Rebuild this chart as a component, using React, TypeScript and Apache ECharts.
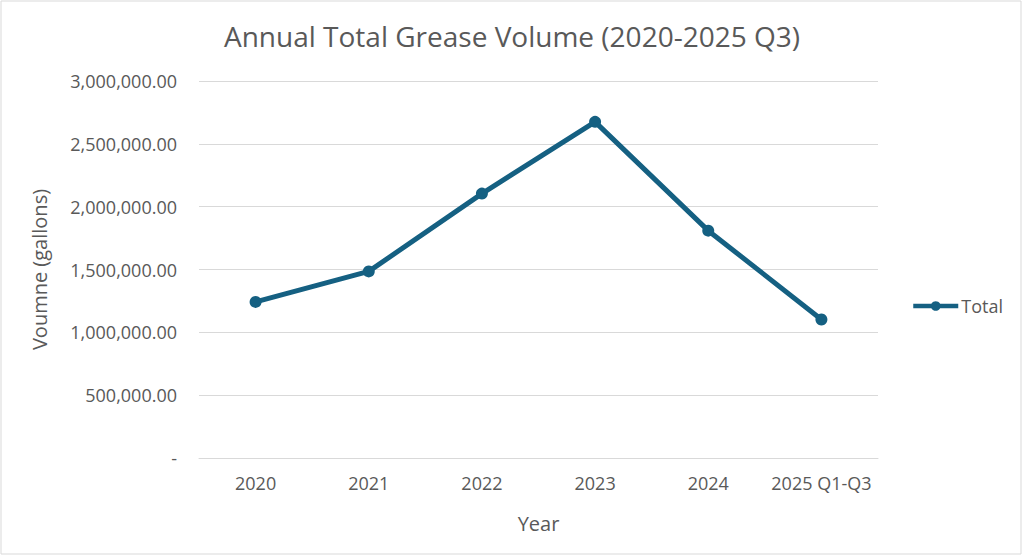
import React, { useEffect, useRef } from "react";
import * as echarts from "echarts";

const categories = ["2020", "2021", "2022", "2023", "2024", "2025 Q1-Q3"];
const totalValues = [1242000, 1485000, 2104000, 2675000, 1809000, 1102000];
const seriesName = "Total";
const titleText = "Annual Total Grease Volume (2020-2025 Q3)";
const yAxisName = "Voumne (gallons)";
const xAxisName = "Year";

const FONT = "'Open Sans', 'Noto Sans', sans-serif";
const TEXT = "#595959";
const LINE = "#156082";

function fmt(v: number): string {
  if (v === 0) return "-";
  return v.toLocaleString("en-US", { minimumFractionDigits: 2, maximumFractionDigits: 2 });
}

export default function App() {
  const ref = useRef<HTMLDivElement>(null);
  useEffect(() => {
    document.body.style.margin = "0";
    const chart = echarts.init(ref.current!, null, { renderer: "svg" });
    chart.setOption({
      animation: false,
      backgroundColor: "#ffffff",
      textStyle: { fontFamily: FONT },
      title: {
        text: titleText,
        left: "center",
        top: 17,
        textStyle: { fontFamily: FONT, fontSize: 28, fontWeight: "normal", color: TEXT },
      },
      graphic: [
        {
          type: "rect",
          shape: { x: 1, y: 1, width: 1020, height: 553 },
          style: { fill: "none", stroke: "#d9d9d9", lineWidth: 1 },
          silent: true,
        },
      ],
      legend: {
        data: [seriesName],
        left: 911,
        top: 297,
        padding: 0,
        orient: "vertical",
        itemWidth: 45,
        itemHeight: 12,
        itemGap: 4,
        lineStyle: { width: 4.5, color: LINE },
        textStyle: { fontFamily: FONT, fontSize: 18, color: TEXT, padding: [0, 0, 0, -2] },
      },
      grid: { left: 199, right: 146, top: 81, bottom: 98 },
      xAxis: {
        type: "category",
        data: categories,
        boundaryGap: true,
        name: xAxisName,
        nameLocation: "middle",
        nameGap: 55,
        nameTextStyle: { fontFamily: FONT, fontSize: 20, color: TEXT },
        axisLine: { lineStyle: { color: "#d9d9d9", width: 1 } },
        axisTick: { show: false },
        axisLabel: { fontFamily: FONT, fontSize: 18, color: TEXT, margin: 16, interval: 0 },
      },
      yAxis: {
        type: "value",
        min: 0,
        max: 3000000,
        interval: 500000,
        name: yAxisName,
        nameLocation: "middle",
        nameGap: 150,
        nameTextStyle: { fontFamily: FONT, fontSize: 20, color: TEXT },
        axisLine: { show: false },
        axisTick: { show: false },
        splitLine: { lineStyle: { color: "#d9d9d9", width: 1 } },
        axisLabel: { fontFamily: FONT, fontSize: 18, color: TEXT, margin: 22, formatter: fmt },
      },
      series: [
        {
          name: seriesName,
          type: "line",
          data: totalValues,
          symbol: "circle",
          symbolSize: 12,
          lineStyle: { color: LINE, width: 5 },
          itemStyle: { color: LINE },
        },
      ],
    });
    return () => chart.dispose();
  }, []);
  return (
    <div
      ref={ref}
      style={{ position: "absolute", left: 0, top: 0, width: 1024, height: 556 }}
    />
  );
}
